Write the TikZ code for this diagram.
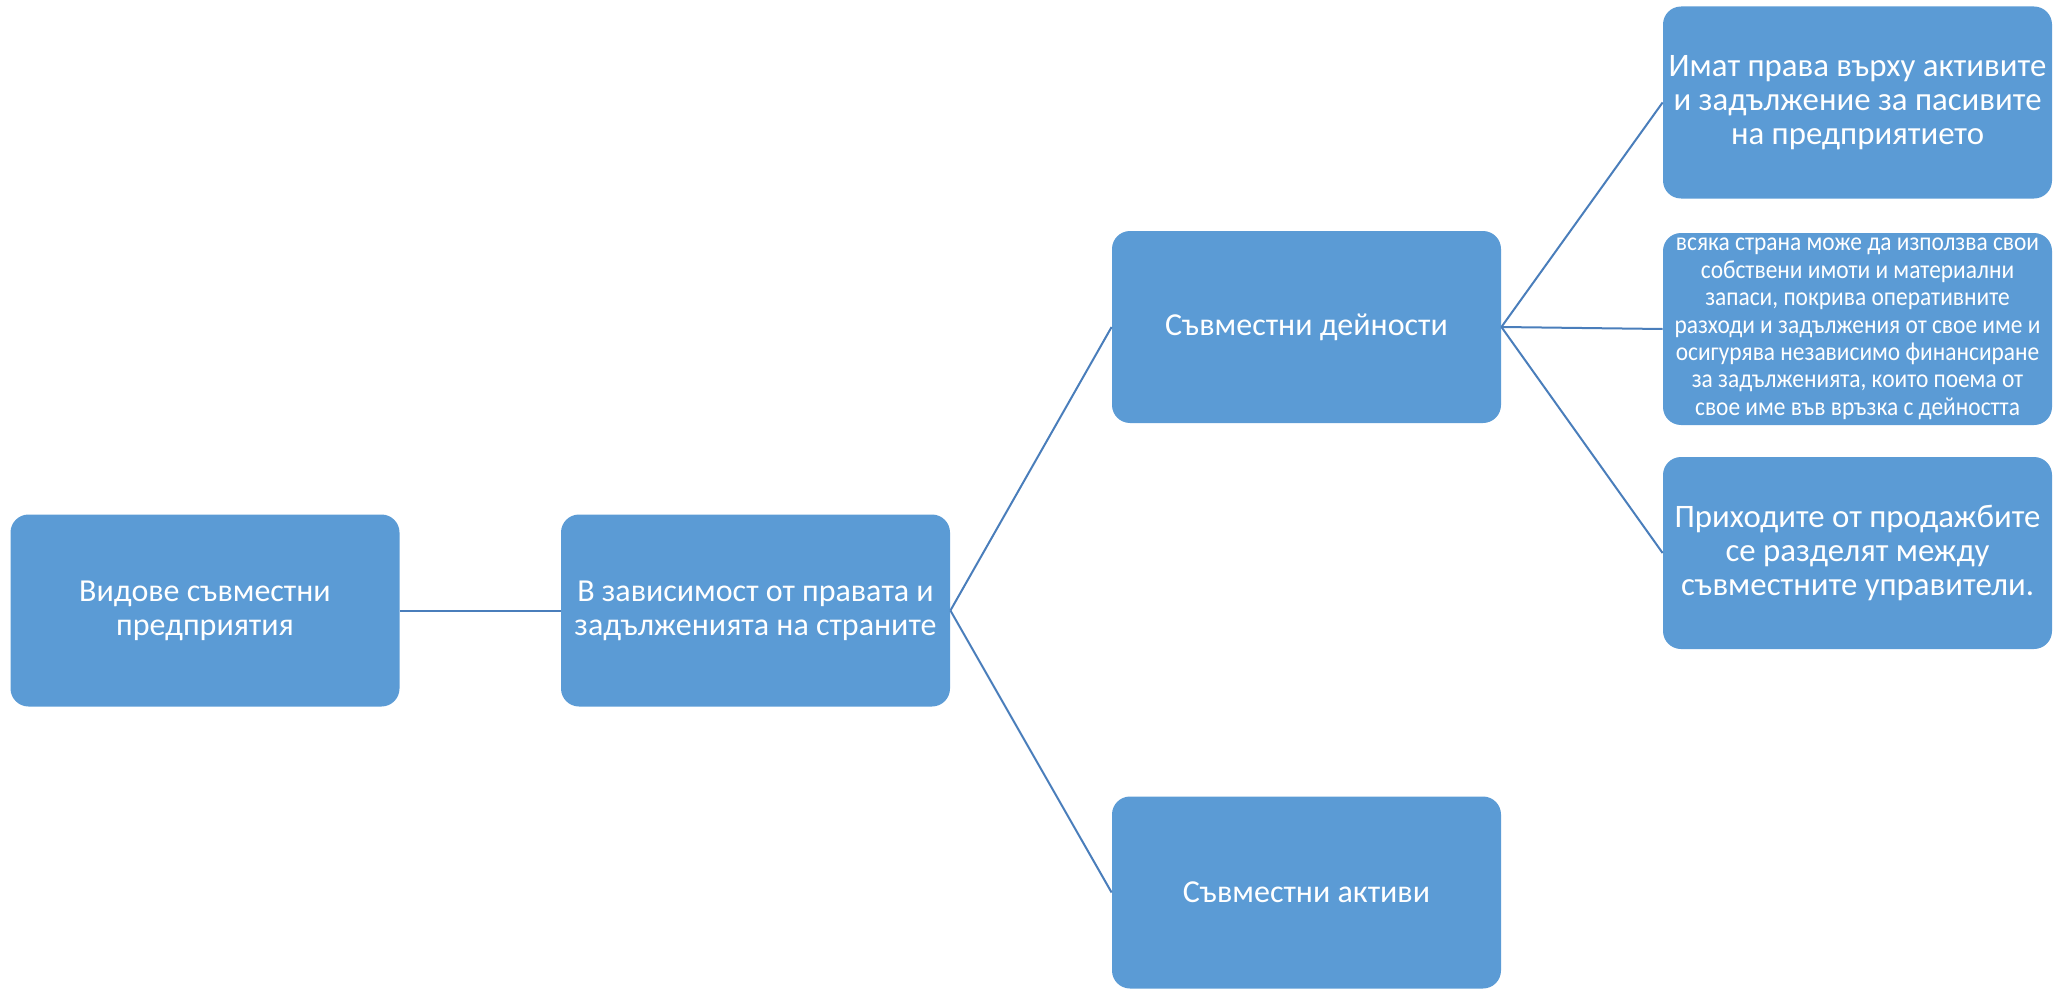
\documentclass[tikz,border=0pt]{standalone}
\usepackage{fontspec}
\setmainfont{Carlito}
\definecolor{boxblue}{HTML}{5B9BD5}
\definecolor{linkblue}{HTML}{4A7EBB}
\newcommand{\condline}[1]{\scalebox{0.9}[1]{#1}}
\begin{document}
\begin{tikzpicture}[x=0.5pt,y=-0.5pt,
  box/.style={fill=boxblue, rounded corners=9pt, minimum width=194.5pt, minimum height=96pt,
    align=center, text=white, font=\fontsize{16}{17}\selectfont, inner sep=0pt},
  bigbox/.style={box, font=\fontsize{16.4}{17}\selectfont},
  smallbox/.style={box, font=\fontsize{13}{13.7}\selectfont},
  link/.style={draw=linkblue, line width=1pt}]
\useasboundingbox (0,0) rectangle (2061,990);
\node[box] (a) at (205,610.5) {Видове съвместни\\предприятия};
\node[box] (b) at (755.5,610.5) {В зависимост от правата и\\задълженията на страните};
\node[box] (c) at (1306.5,327) {Съвместни дейности};
\node[box] (d) at (1306.5,892.5) {Съвместни активи};
\node[bigbox] (e) at (1857.5,102.5) {Имат права върху активите\\и задължение за пасивите\\на предприятието};
\node[smallbox] (f) at (1857.5,329) {\condline{всяка страна може да използва свои}\\\condline{собствени имоти и материални}\\\condline{запаси, покрива оперативните}\\\condline{разходи и задължения от свое име и}\\\condline{осигурява независимо финансиране}\\\condline{за задълженията, които поема от}\\\condline{свое име във връзка с дейността}};
\node[bigbox] (g) at (1857.5,553) {Приходите от продажбите\\се разделят между\\съвместните управители.};
\draw[link] (a.east) -- (b.west);
\draw[link] (b.east) -- (c.west);
\draw[link] (b.east) -- (d.west);
\draw[link] (c.east) -- (e.west);
\draw[link] (c.east) -- (f.west);
\draw[link] (c.east) -- (g.west);
\end{tikzpicture}
\end{document}
